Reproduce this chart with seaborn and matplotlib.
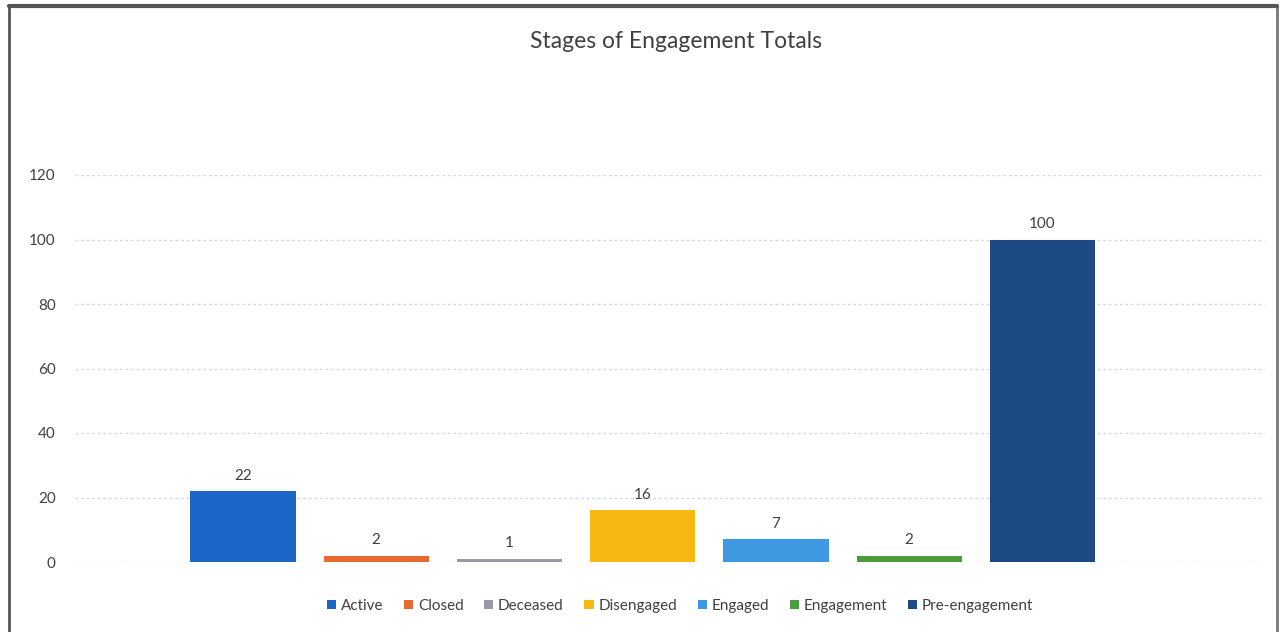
import matplotlib
matplotlib.use("Agg")
import matplotlib.pyplot as plt
import seaborn as sns
import pandas as pd
from matplotlib.lines import Line2D
from matplotlib.patches import Patch

categories = ["Active", "Closed", "Deceased", "Disengaged", "Engaged", "Engagement", "Pre-engagement"]
values = [22, 2, 1, 16, 7, 2, 100]
colors = ["#1b66c6", "#e8692f", "#9a9aa6", "#f8b814", "#3d9ae2", "#4a9c3c", "#1d4a84"]
yticks = [0, 20, 40, 60, 80, 100, 120]
title = "Stages of Engagement Totals"

sns.set_theme(style="white")
plt.rcParams["font.family"] = ["Lato", "DejaVu Sans"]

df = pd.DataFrame({"stage": categories, "count": values})

fig = plt.figure(figsize=(12.84, 6.32), dpi=100)
ax = fig.add_axes([75 / 1284, 1 - 562 / 632, 1190 / 1284, (562 - 175) / 632])

sns.barplot(data=df, x="stage", y="count", hue="stage", palette=colors,
            order=categories, hue_order=categories, width=0.79, dodge=False,
            legend=False, ax=ax, saturation=1, linewidth=0)

ax.set_xlim(-1.26, 7.67)
ax.set_ylim(0, 120)
ax.set_yticks(yticks)
ax.set_yticklabels([str(t) for t in yticks], fontsize=11, color="#404040")
ax.tick_params(axis="y", length=0, pad=14)
ax.set_xticks([])
ax.set_xlabel("")
ax.set_ylabel("")
for s in ax.spines.values():
    s.set_visible(False)
ax.yaxis.grid(True, linestyle=(0, (2, 2)), color="#d9d9d9", linewidth=1)
ax.set_axisbelow(True)

for c in ax.containers:
    ax.bar_label(c, padding=6, fontsize=11, color="#404040")

fig.text(676 / 1284, 1 - 42 / 632, title, ha="center", va="center",
         fontsize=16.5, color="#404040")

handles = [Patch(facecolor=col, edgecolor="none") for col in colors]
fig.legend(handles, categories, loc="center", bbox_to_anchor=(680 / 1284, 1 - 606 / 632),
           ncol=7, frameon=False, fontsize=11, handlelength=0.6, handleheight=0.6,
           handletextpad=0.3, columnspacing=1.35, labelcolor="#404040")

# outer frame
fig.add_artist(Line2D([9 / 1284, 9 / 1284], [0, 1 - 6 / 632], transform=fig.transFigure,
                      color="#555555", linewidth=2))
fig.add_artist(Line2D([1277 / 1284, 1277 / 1284], [0, 1 - 6 / 632], transform=fig.transFigure,
                      color="#777777", linewidth=2))
fig.add_artist(Line2D([9 / 1284, 1277 / 1284], [1 - 6 / 632, 1 - 6 / 632], transform=fig.transFigure,
                      color="#555555", linewidth=3))

fig.savefig("out.png", dpi=100)
